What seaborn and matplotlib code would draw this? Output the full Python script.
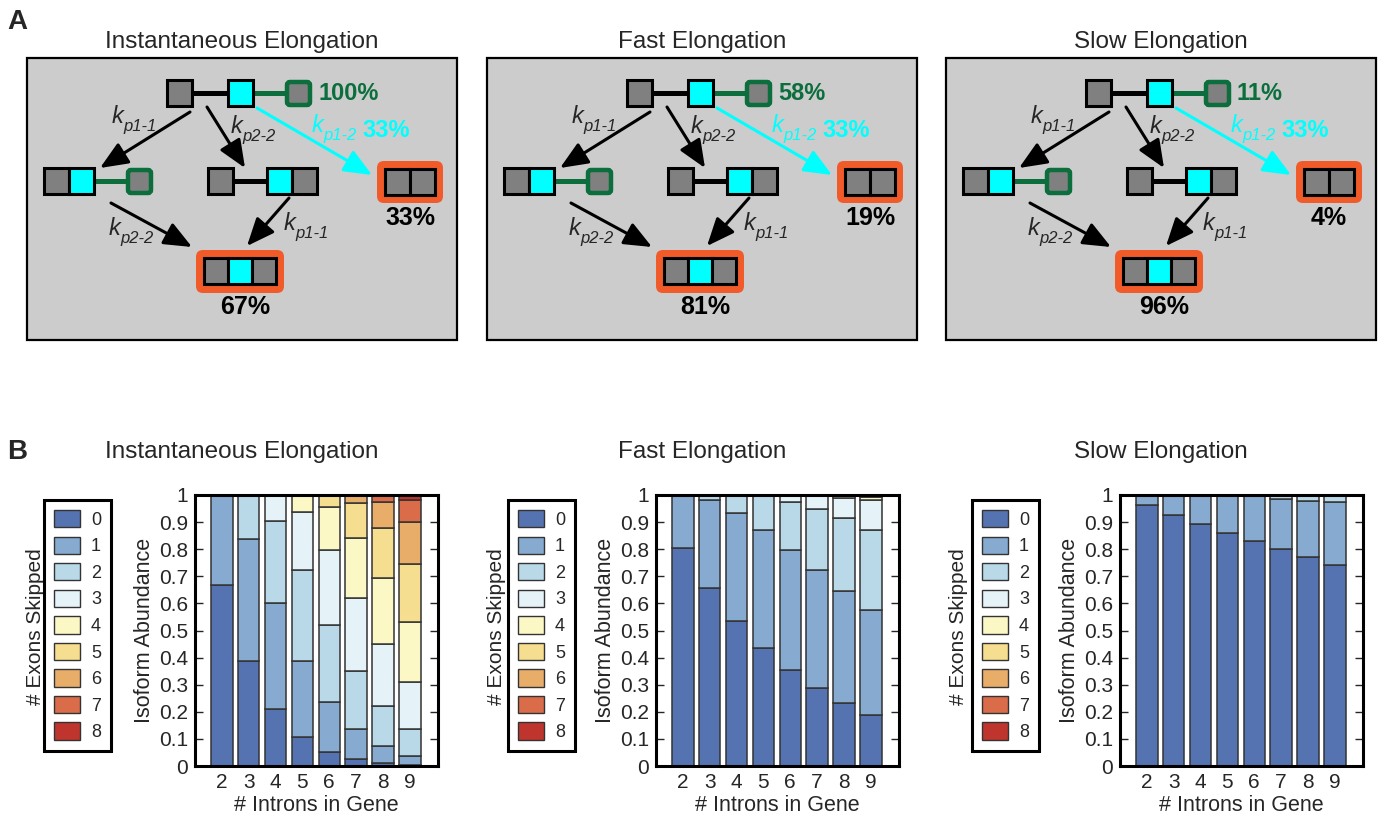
import pandas as pd
import matplotlib
matplotlib.use("Agg")
import matplotlib.pyplot as plt
import seaborn as sns
from matplotlib.patches import Rectangle, FancyBboxPatch, Patch

sns.set_style("white")
plt.rcParams["font.family"] = ["Liberation Sans", "DejaVu Sans"]

# ---- data ----
titles = ["Instantaneous Elongation", "Fast Elongation", "Slow Elongation"]
full_pct = ["100%", "58%", "11%"]
kp12_pct = ["33%", "33%", "33%"]
incl_pct = ["67%", "81%", "96%"]
skip_pct = ["33%", "19%", "4%"]

introns = [2, 3, 4, 5, 6, 7, 8, 9]
skip_levels = ["0", "1", "2", "3", "4", "5", "6", "7", "8"]
skip_colors = ["#5573b1", "#86aad0", "#b9d9e9", "#e5f2f7", "#fbf8c5",
               "#f6de90", "#e9ad6a", "#da6c4a", "#bf352d"]

inst_frac = [
    [0.667, 0.333],
    [0.388, 0.448, 0.164],
    [0.209, 0.391, 0.304, 0.096],
    [0.107, 0.282, 0.333, 0.216, 0.062],
    [0.052, 0.184, 0.286, 0.274, 0.160, 0.044],
    [0.025, 0.111, 0.216, 0.268, 0.223, 0.126, 0.031],
    [0.010, 0.064, 0.148, 0.229, 0.242, 0.184, 0.098, 0.025],
    [0.004, 0.034, 0.098, 0.173, 0.222, 0.213, 0.158, 0.078, 0.020],
]
fast_frac = [
    [0.806, 0.194],
    [0.656, 0.324, 0.020],
    [0.534, 0.400, 0.066],
    [0.434, 0.437, 0.125, 0.004],
    [0.353, 0.444, 0.177, 0.026],
    [0.287, 0.436, 0.225, 0.052],
    [0.234, 0.412, 0.268, 0.074, 0.010, 0.002],
    [0.189, 0.385, 0.297, 0.110, 0.012, 0.007],
]
slow_frac = [
    [0.963, 0.037],
    [0.927, 0.073],
    [0.894, 0.106],
    [0.861, 0.139],
    [0.829, 0.166, 0.005],
    [0.800, 0.185, 0.015],
    [0.770, 0.209, 0.021],
    [0.742, 0.232, 0.026],
]


def long_table(fracs):
    rows = []
    for n, fr in zip(introns, fracs):
        for k, v in enumerate(fr):
            rows.append((n, str(k), v))
    return pd.DataFrame(rows, columns=["introns", "skipped", "abundance"])


W, H = 1378, 816
fig = plt.figure(figsize=(W / 100, H / 100), dpi=100)

# ---- panel A: schematic, drawn in pixel coordinates ----
axA = fig.add_axes([0, 0, 1, 1])
axA.set_xlim(0, W)
axA.set_ylim(H, 0)
axA.axis("off")

GRAY = "#808080"
CYAN = "#00ffff"
GREEN = "#0b6e3c"
ORANGE = "#f15a29"
TXT = "#262626"


def sq(x, y, fc, w=25):
    axA.add_patch(Rectangle((x, y), w, 26, fc=fc, ec="k", lw=2.2, zorder=3))


def gsq(x, y):
    axA.add_patch(FancyBboxPatch((x + 2, y + 2), 23, 23, boxstyle="round,pad=0,rounding_size=3",
                                 fc=GRAY, ec=GREEN, lw=3.2, zorder=3))


def link(x0, x1, y, c):
    axA.plot([x0, x1], [y, y], color=c, lw=3.6, solid_capstyle="butt", zorder=2)


def arrow(p0, p1, c="k"):
    axA.annotate("", xy=p1, xytext=p0,
                 arrowprops=dict(arrowstyle="-|>,head_length=0.85,head_width=0.36",
                                 color=c, lw=2.2, mutation_scale=20,
                                 shrinkA=0, shrinkB=0), zorder=4)


def klab(x, y, sub, c=TXT):
    axA.text(x, y, "k", style="italic", fontsize=17, color=c, va="baseline", ha="left")
    axA.text(x + 11, y + 8, sub, style="italic", fontsize=12, color=c, va="baseline", ha="left")


for i in range(3):
    dx = [0, 460, 919][i]
    axA.add_patch(Rectangle((27 + dx, 58), 430, 282, fc="#cccccc", ec="k", lw=1.6, zorder=1))
    axA.text(242 + dx, 42, titles[i], fontsize=17.5, color=TXT, ha="center", va="center")

    # full transcript
    sq(167 + dx, 80, GRAY)
    link(192 + dx, 228 + dx, 93, "k")
    sq(228 + dx, 80, CYAN)
    link(253 + dx, 286 + dx, 93, GREEN)
    gsq(285 + dx, 80)
    axA.text(318 + dx, 93, full_pct[i], fontsize=17, fontweight="bold", color=GREEN,
             ha="left", va="center")

    # arrows from top
    arrow((190 + dx, 112), (100 + dx, 168))
    klab(112 + dx, 123, "p1-1")
    arrow((207 + dx, 107), (245 + dx, 168))
    klab(231 + dx, 133, "p2-2")
    arrow((257 + dx, 108), (372 + dx, 175), CYAN)
    klab(312 + dx, 132, "p1-2", CYAN)
    axA.text(362 + dx, 137, kp12_pct[i], fontsize=17, fontweight="bold", color=CYAN,
             ha="left", va="baseline")

    # middle intermediates
    sq(44 + dx, 168, GRAY)
    sq(69 + dx, 168, CYAN)
    link(94 + dx, 127 + dx, 181, GREEN)
    gsq(126 + dx, 168)
    sq(208 + dx, 168, GRAY)
    link(233 + dx, 267 + dx, 181, "k")
    sq(267 + dx, 168, CYAN)
    sq(292 + dx, 168, GRAY)

    # skipped product
    axA.add_patch(FancyBboxPatch((377 + dx, 161), 66, 42, boxstyle="round,pad=0,rounding_size=7",
                                 fc=ORANGE, ec="none", zorder=2))
    sq(385 + dx, 169, GRAY)
    sq(410 + dx, 169, GRAY)
    axA.text(410 + dx, 218, skip_pct[i], fontsize=18, fontweight="bold", color="k",
             ha="center", va="center")

    # second step
    arrow((111 + dx, 203), (192 + dx, 247))
    klab(109 + dx, 235, "p2-2")
    arrow((289 + dx, 198), (247 + dx, 246))
    klab(284 + dx, 230, "p1-1")

    # included product
    axA.add_patch(FancyBboxPatch((196 + dx, 250), 88, 43, boxstyle="round,pad=0,rounding_size=7",
                                 fc=ORANGE, ec="none", zorder=2))
    sq(204 + dx, 258, GRAY, 24)
    sq(228 + dx, 258, CYAN, 24)
    sq(252 + dx, 258, GRAY, 24)
    axA.text(245 + dx, 307, incl_pct[i], fontsize=18, fontweight="bold", color="k",
             ha="center", va="center")

fig.text(7 / W, 1 - 22 / H, "A", fontsize=20, fontweight="bold", va="center")
fig.text(7 / W, 1 - 452 / H, "B", fontsize=20, fontweight="bold", va="center")

# ---- panel B: stacked isoform abundance ----
panels = [inst_frac, fast_frac, slow_frac]
ax_left = [195, 656, 1120]
leg_left = [44, 508, 972]
ylab_x = [36, 497, 958]
pal = dict(zip(skip_levels, skip_colors))

for i in range(3):
    df = long_table(panels[i])
    present = [s for s in skip_levels if s in set(df["skipped"])]
    ax = fig.add_axes([ax_left[i] / W, (H - 766) / H, 243 / W, 271 / H])
    sns.histplot(data=df, x="introns", weights="abundance", hue="skipped",
                 hue_order=present[::-1], palette=pal, multiple="stack",
                 discrete=True, shrink=0.8, alpha=1, edgecolor="#333333",
                 linewidth=1.1, legend=False, ax=ax)
    ax.set_xlim(1, 10.05)
    ax.set_ylim(0, 1)
    ax.set_xticks(introns)
    ax.set_xticklabels([str(n) for n in introns])
    yt = [round(0.1 * k, 1) for k in range(11)]
    ax.set_yticks(yt)
    ax.set_yticklabels(["0"] + [f"{v:.1f}" for v in yt[1:-1]] + ["1"])
    ax.tick_params(axis="y", direction="in", left=True, right=True, length=6,
                   width=1, labelsize=15, labelcolor=TXT, pad=5)
    ax.tick_params(axis="x", length=0, labelsize=15, labelcolor=TXT, pad=5)
    for sp in ax.spines.values():
        sp.set_linewidth(2.2)
        sp.set_color("k")
    ax.set_xlabel("# Introns in Gene", fontsize=15.5, color=TXT, labelpad=2)
    ax.set_ylabel("Isoform Abundance", fontsize=15.5, color=TXT, labelpad=3)

    fig.text((242 + [0, 460, 919][i]) / W, 1 - 452 / H, titles[i], fontsize=17.5,
             color=TXT, ha="center", va="center")

    handles = [Patch(fc=c, ec="#333333", lw=1) for c in skip_colors]
    leg = fig.legend(handles, skip_levels, loc="upper left",
                     bbox_to_anchor=(leg_left[i] / W, 1 - 500 / H), borderaxespad=0,
                     fontsize=13, handlelength=1.45, handleheight=1.1, labelspacing=0.43,
                     handletextpad=0.6, borderpad=0.55, fancybox=False, framealpha=1,
                     edgecolor="k", labelcolor=TXT)
    leg.get_frame().set_linewidth(2.2)
    fig.text(ylab_x[i] / W, 1 - 627 / H, "# Exons Skipped", rotation=90, fontsize=15,
             color=TXT, ha="center", va="center")

fig.savefig("out.png", dpi=100)
